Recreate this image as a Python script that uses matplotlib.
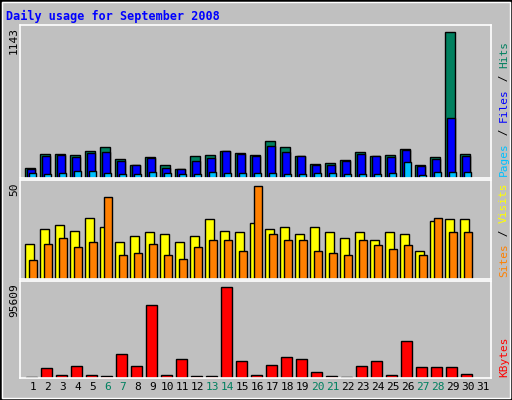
import matplotlib
matplotlib.use("Agg")
import matplotlib.pyplot as plt
from matplotlib.patches import Rectangle
import numpy as np

days = list(range(1, 32))
hits = [80,189,189,181,212,243,150,104,166,104,73,174,181,212,197,181,290,243,174,111,119,142,205,174,181,228,104,166,1143,189]
files = [67,174,181,166,197,205,135,104,158,80,73,135,158,212,189,174,251,205,174,104,104,135,189,174,166,220,96,150,469,174]
pages = [41,34,41,57,57,41,34,34,49,41,34,34,49,41,41,41,41,34,34,41,41,34,34,34,41,127,26,49,49,49]
visits = [19,27,29,26,33,28,20,23,25,24,20,23,32,26,25,30,27,28,24,28,25,22,25,21,25,24,15,31,32,32]
sites = [10,19,22,17,20,44,13,14,19,13,11,17,21,21,15,50,24,21,21,15,14,13,21,18,16,18,13,33,25,25]
kbytes = [1000,10800,3500,12900,3500,2400,25500,12900,76800,3500,20200,2400,2400,95609,18100,3500,14000,22300,20200,6600,2400,1000,12900,18100,3500,39100,11900,11900,11900,4500]
weekends = [6,7,13,14,20,21,27,28]

BG = "#C0C0C0"
C_HITS, C_FILES, C_PAGES = "#00805F", "#0000FF", "#00C0FF"
C_VIS, C_SITES, C_KB = "#FFFF00", "#FF8000", "#FF0000"
W, H = 512, 400
fig = plt.figure(figsize=(5.12, 4.0), dpi=100, facecolor=BG)
mono = "DejaVu Sans Mono"

fig.add_artist(Rectangle((0, 0), 1, 1, transform=fig.transFigure, fill=False, ec="black", lw=2))
fig.add_artist(Rectangle((2/W, 2/H), 1-4/W, 1-4/H, transform=fig.transFigure, fill=False, ec="white", lw=1))

def ax_px(x0, y0, x1, y1):
    return fig.add_axes([x0/W, 1-y1/H, (x1-x0)/W, (y1-y0)/H])

n = len(hits)
x = np.arange(n)
def setup(ax, ymax, label, ytop):
    ax.set_facecolor(BG)
    ax.set_xlim(-0.35, 31.05)
    ax.set_ylim(0, ymax)
    ax.set_xticks([]); ax.set_yticks([])
    for s in ax.spines.values():
        s.set_color("white"); s.set_linewidth(1.2)
    fig.text(14/W, 1-ytop/H, label, rotation=90, ha="center", va="top", family=mono, fontsize=8)

top = ax_px(20, 25, 491, 178)
setup(top, 1143/0.955, "1143", 27)
top.bar(x, hits, width=0.62, align="edge", color=C_HITS, ec="black", lw=1)
top.bar(x+0.13, files, width=0.49, align="edge", color=C_FILES, ec="black", lw=1)
top.bar(x+0.27, pages, width=0.47, align="edge", color=C_PAGES, ec="black", lw=1)

mid = ax_px(20, 180, 491, 279)
setup(mid, 50/0.94, "50", 182)
mid.bar(x, visits, width=0.55, align="edge", color=C_VIS, ec="black", lw=1)
mid.bar(x+0.27, sites, width=0.49, align="edge", color=C_SITES, ec="black", lw=1)

bot = ax_px(20, 281, 491, 378)
setup(bot, 95609/0.94, "95609", 283)
bot.bar(x+0.07, kbytes, width=0.69, align="edge", color=C_KB, ec="black", lw=1)

for d in days:
    bot.text(d-1+0.5, -0.04, str(d), transform=bot.get_xaxis_transform(), ha="center", va="top",
             family=mono, fontsize=8, color=C_HITS if d in weekends else "black")

fig.text(6/W, 1-16/H, "Daily usage for September 2008", family=mono, fontsize=8.5,
         fontweight="bold", color="#0000FF", va="center", ha="left")

renderer = fig.canvas.get_renderer()
def rlab(y0px, parts):
    y = y0px
    for p, c in parts:
        t = fig.text(499/W, 1-y/H, p, rotation=90, ha="left", va="bottom", family=mono, fontsize=8, color=c)
        bb = t.get_window_extent(renderer=renderer)
        y -= bb.height

rlab(176, [("Pages", C_PAGES), (" / ", "black"), ("Files", C_FILES), (" / ", "black"), ("Hits", C_HITS)])
rlab(277, [("Sites", C_SITES), (" / ", "black"), ("Visits", C_VIS)])
rlab(377, [("KBytes", C_KB)])

fig.savefig("out.png", dpi=100, facecolor=BG)
